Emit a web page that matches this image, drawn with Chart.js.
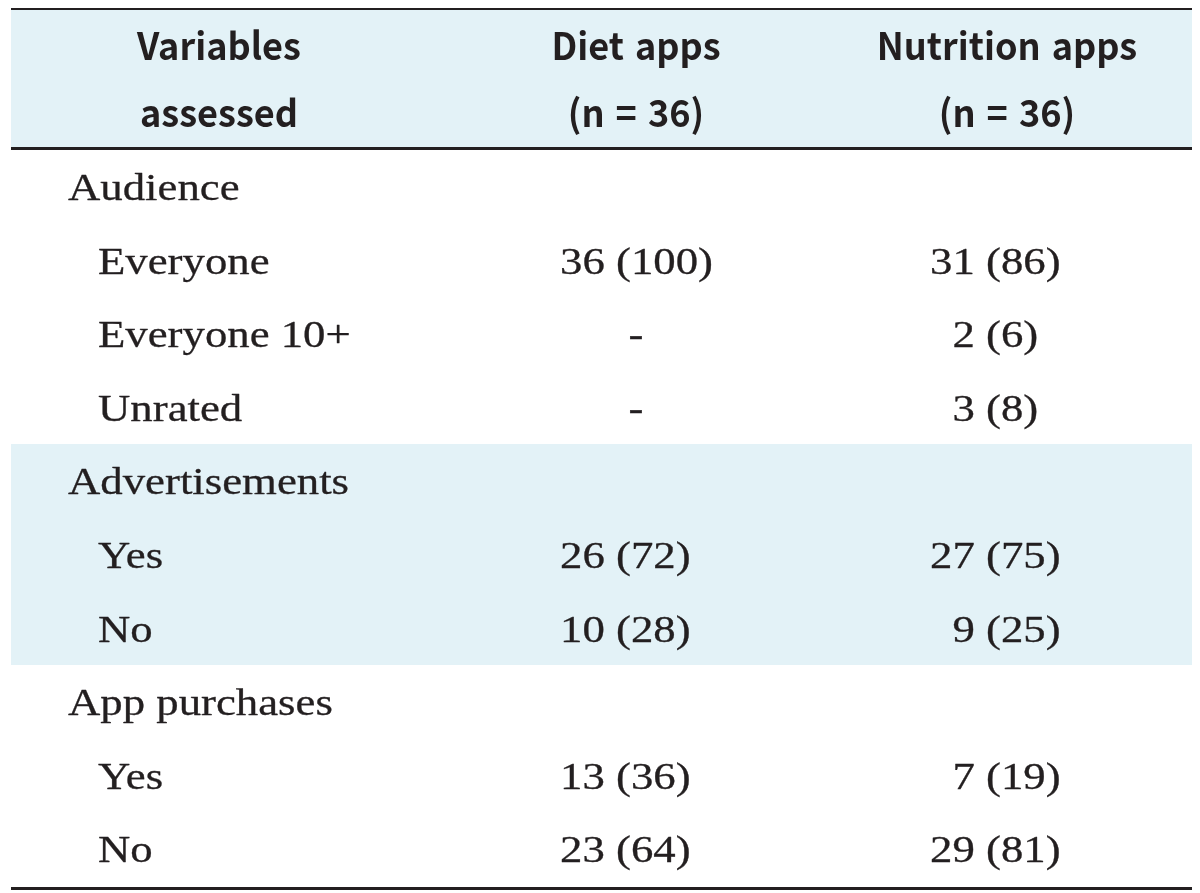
<!DOCTYPE html>
<html>
<head>
<meta charset="utf-8">
<script src="https://cdn.jsdelivr.net/npm/chart.js@4.4.1/dist/chart.umd.min.js"></script>
<style>
  html, body { margin: 0; padding: 0; background: #ffffff; }
  #wrap { width: 1200px; height: 893px; position: relative; }
</style>
</head>
<body>
<div id="wrap"><canvas id="c"></canvas></div>
<script>
// ---- Table content ----
const headerVariables = ["Variables", "assessed"];
const headerDiet = ["Diet apps", "(n = 36)"];
const headerNutrition = ["Nutrition apps", "(n = 36)"];

const rowLabels = ["Audience", "Everyone", "Everyone 10+", "Unrated",
                   "Advertisements", "Yes", "No",
                   "App purchases", "Yes", "No"];
const rowIsSection = [true, false, false, false, true, false, false, true, false, false];

const dietCounts    = [null, 36, null, null, null, 26, 10, null, 13, 23];
const dietPercents  = [null, 100, null, null, null, 72, 28, null, 36, 64];
const nutritionCounts   = [null, 31, 2, 3, null, 27, 9, null, 7, 29];
const nutritionPercents = [null, 86, 6, 8, null, 75, 25, null, 19, 81];

const shadedSections = ["Advertisements"];

// ---- Layout / style ----
const INK = "#231f20";
const BAND = "#e3f2f7";
const TABLE_LEFT = 11, TABLE_RIGHT = 1192;
const ROW0_BASE = 200, ROW_PITCH = 73.6;
const HEAD_BASE = [60, 127];
const SERIF = '37px "Liberation Serif", "Times New Roman", serif';
const SERIF_SX = 1.21;
const SERIF_STROKE = 0.3;
const SANS = 'bold 38px "Noto Sans CJK KR", "Noto Sans", sans-serif';
const SANS_SX = 0.95;
const SANS_WORD_SPACING = '3px';
const COLS = {
  label: { section: 68, item: 98, head: 219 },
  diet: { head: 636, paren: 616, center: 636 },
  nutrition: { head: 1007, paren: 986, center: 996 }
};

function drawText(ctx, txt, x, y, font, sx, align, stroke, wordSpacing) {
  ctx.save();
  ctx.font = font;
  if ('wordSpacing' in ctx) ctx.wordSpacing = wordSpacing || '0px';
  const w = ctx.measureText(txt).width * sx;
  let x0 = x;
  if (align === 'center') x0 = x - w / 2;
  else if (align === 'right') x0 = x - w;
  ctx.translate(x0, y);
  ctx.scale(sx, 1);
  ctx.textAlign = 'left';
  ctx.textBaseline = 'alphabetic';
  ctx.fillStyle = INK;
  ctx.fillText(txt, 0, 0);
  if (stroke) {
    ctx.strokeStyle = INK;
    ctx.lineWidth = stroke;
    ctx.lineJoin = 'round';
    ctx.strokeText(txt, 0, 0);
  }
  ctx.restore();
}

function drawCell(ctx, xs, ys, n, p, col, baseY, isSection) {
  if (isSection) return;
  const y = ys.getPixelForValue(baseY);
  if (n === null) {
    drawText(ctx, "-", xs.getPixelForValue(col.center), y, SERIF, SERIF_SX, 'center', SERIF_STROKE);
    return;
  }
  ctx.save();
  ctx.font = SERIF;
  const prefix = n + " ";
  const pw = ctx.measureText(prefix).width * SERIF_SX;
  ctx.restore();
  const x0 = xs.getPixelForValue(col.paren) - pw;
  drawText(ctx, prefix + "(" + p + ")", x0, y, SERIF, SERIF_SX, 'left', SERIF_STROKE);
}

const tablePlugin = {
  id: 'tablePlugin',
  afterDatasetsDraw(chart) {
    const ctx = chart.ctx;
    const xs = chart.scales.x, ys = chart.scales.y;
    const X = v => xs.getPixelForValue(v);
    const Y = v => ys.getPixelForValue(v);
    const rowBase = i => ROW0_BASE + ROW_PITCH * i;

    ctx.save();
    // header band
    ctx.fillStyle = BAND;
    ctx.fillRect(X(TABLE_LEFT), Y(10), X(TABLE_RIGHT) - X(TABLE_LEFT), Y(147) - Y(10));
    // shaded sections
    shadedSections.forEach(name => {
      const start = rowLabels.indexOf(name);
      let end = start + 1;
      while (end < rowLabels.length && !rowIsSection[end]) end++;
      const top = rowBase(start) - 50.4;
      const bottom = rowBase(end - 1) + 23.4;
      ctx.fillStyle = BAND;
      ctx.fillRect(X(TABLE_LEFT), Y(top), X(TABLE_RIGHT) - X(TABLE_LEFT), Y(bottom) - Y(top));
    });
    // rules
    ctx.fillStyle = INK;
    ctx.fillRect(X(TABLE_LEFT), Y(8), X(TABLE_RIGHT) - X(TABLE_LEFT), 2);
    ctx.fillRect(X(TABLE_LEFT), Y(147), X(TABLE_RIGHT) - X(TABLE_LEFT), 3);
    ctx.fillRect(X(TABLE_LEFT), Y(887), X(TABLE_RIGHT) - X(TABLE_LEFT), 3);

    // header
    [[headerVariables, COLS.label.head], [headerDiet, COLS.diet.head], [headerNutrition, COLS.nutrition.head]]
      .forEach(([lines, cx]) => {
        lines.forEach((t, k) => drawText(ctx, t, X(cx), Y(HEAD_BASE[k]), SANS, SANS_SX, 'center', 0, SANS_WORD_SPACING));
      });

    // body rows
    rowLabels.forEach((lab, i) => {
      const by = rowBase(i);
      const lx = rowIsSection[i] ? COLS.label.section : COLS.label.item;
      drawText(ctx, lab, X(lx), Y(by), SERIF, SERIF_SX, 'left', SERIF_STROKE);
      drawCell(ctx, xs, ys, dietCounts[i], dietPercents[i], COLS.diet, by, rowIsSection[i]);
      drawCell(ctx, xs, ys, nutritionCounts[i], nutritionPercents[i], COLS.nutrition, by, rowIsSection[i]);
    });
    ctx.restore();
  }
};

new Chart(document.getElementById('c'), {
  type: 'scatter',
  data: { datasets: [{ data: [], pointRadius: 0 }] },
  options: {
    responsive: true,
    maintainAspectRatio: false,
    animation: false,
    events: [],
    layout: { padding: 0 },
    plugins: { legend: { display: false }, tooltip: { enabled: false }, title: { display: false } },
    scales: {
      x: { type: 'linear', min: 0, max: 1200, display: false },
      y: { type: 'linear', min: 0, max: 893, reverse: true, display: false }
    }
  },
  plugins: [tablePlugin]
});
</script>
</body>
</html>
